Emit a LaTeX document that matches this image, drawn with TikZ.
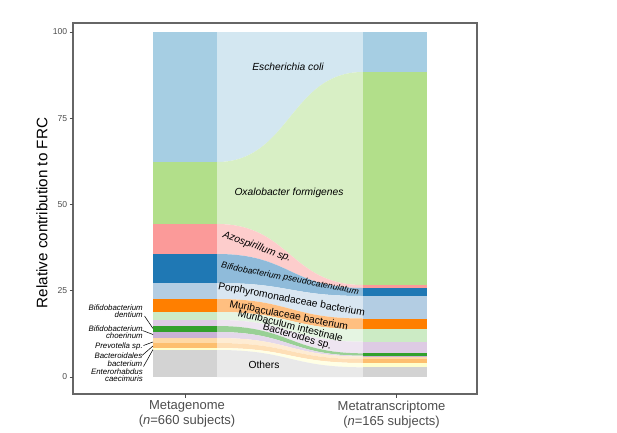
\documentclass[tikz,border=0pt]{standalone}
\usepackage{fontspec}
\setmainfont{Liberation Sans}
\definecolor{cEcoli}{HTML}{A6CEE3}
\definecolor{cOxa}{HTML}{B2DF8A}
\definecolor{cAzo}{HTML}{FB9A99}
\definecolor{cBps}{HTML}{1F78B4}
\definecolor{cPor}{HTML}{B3CDE3}
\definecolor{cMub}{HTML}{FF7F00}
\definecolor{cMui}{HTML}{CCEBC5}
\definecolor{cBac}{HTML}{DECBE4}
\definecolor{cBde}{HTML}{33A02C}
\definecolor{cBch}{HTML}{CAB2D6}
\definecolor{cPre}{HTML}{FED9A6}
\definecolor{cBcd}{HTML}{FDBF6F}
\definecolor{cEnt}{HTML}{FFFFCC}
\definecolor{cOth}{HTML}{D3D3D3}
\definecolor{axgray}{HTML}{4D4D4D}
\definecolor{framegray}{HTML}{666666}
\begin{document}
\begin{tikzpicture}[x=0.75pt,y=-0.75pt,
  ticklbl/.style={anchor=east,text=axgray,font=\fontsize{6.45}{7}\selectfont,inner sep=0pt},
  xlbl/.style={align=center,text=axgray,font=\fontsize{9.75}{11.25}\selectfont,inner sep=0pt},
  flowlbl/.style={font=\fontsize{7.7}{8}\selectfont,inner sep=0pt},
  flowit/.style={font=\fontsize{7.7}{8}\selectfont\itshape,inner sep=0pt},
  sidelbl/.style={anchor=east,align=right,font=\fontsize{5.9}{5.3}\selectfont\itshape,inner sep=0pt},
  leader/.style={draw=black,line width=0.4pt}]
\useasboundingbox (0,0) rectangle (617,432);
% flows and bars
\foreach \col/\la/\lb/\ra/\rb in {
  cEcoli/32/162/32/72,
  cOxa/162/224/72/285,
  cAzo/224/254/285/288,
  cBps/254/283/288/296,
  cPor/283/299/296/318.5,
  cMub/299/312/318.5/329.3,
  cMui/312/320/329.3/341.7,
  cBac/320/326/341.7/353.3,
  cBde/326/332/353.3/355.7,
  cBch/332/338/355.7/356.5,
  cPre/338/343/356.5/359,
  cBcd/343/348/359/363,
  cEnt/348/350/363/367.3,
  cOth/350/377/367.3/377}{
  \fill[\col!50!white] (217,\la) .. controls (290,\la) and (290,\ra) .. (363,\ra)
     -- (363,\rb) .. controls (290,\rb) and (290,\lb) .. (217,\lb) -- cycle;
  \fill[\col] (153,\la) rectangle (217,\lb);
  \fill[\col] (363,\ra) rectangle (427,\rb);
}
% flow labels
\node[flowit] (tEcoli) at (288,66.7) {Escherichia coli};
\node[flowit] (tOxa) at (289,193.3) {Oxalobacter formigenes};
\node[flowit,rotate=-20] (tAzo) at (257,247) {Azospirillum sp.};
\node[flowit,rotate=-11,font=\fontsize{6.6}{7}\selectfont\itshape] (tBps) at (290,279) {Bifidobacterium pseudocatenulatum};
\node[flowlbl,rotate=-10.5] (tPor) at (291.5,300) {Porphyromonadaceae bacterium};
\node[flowlbl,rotate=-11] (tMub) at (289,315) {Muribaculaceae bacterium};
\node[flowlbl,rotate=-14] (tMui) at (290.5,325.5) {Muribaculum intestinale};
\node[flowlbl,rotate=-16] (tBac) at (297,336.7) {Bacteroides sp.};
\node[flowlbl] (tOth) at (264,365) {Others};
% side labels
\node[sidelbl] (ldent) at (143,311.5) {Bifidobacterium\\dentium};
\node[sidelbl] (lchoe) at (143,332) {Bifidobacterium\\choerinum};
\node[sidelbl] (lprev) at (143,346) {Prevotella sp.};
\node[sidelbl] (lbacd) at (142.5,359.7) {Bacteroidales\\bacterium};
\node[sidelbl] (lent) at (143,375) {Enterorhabdus\\caecimuris};
\coordinate (sdent) at (144.5,316);
\coordinate (edent) at (153,328.5);
\coordinate (schoe) at (142.5,330.5);
\coordinate (echoe) at (153,334.5);
\coordinate (sprev) at (143.5,345.5);
\coordinate (eprev) at (153,342);
\coordinate (sbacd) at (142,355.5);
\coordinate (ebacd) at (153,346);
\coordinate (sent) at (143.5,366.5);
\coordinate (eent) at (153,349.5);
\draw[leader] (sdent) -- (edent);
\draw[leader] (schoe) -- (echoe);
\draw[leader] (sprev) -- (eprev);
\draw[leader] (sbacd) -- (ebacd);
\draw[leader] (sent) -- (eent);
% panel frame
\draw[framegray,line width=0.8pt] (73,23) rectangle (477,394);
% y ticks
\foreach \v/\yy in {0/377,25/290.75,50/204.5,75/118.25,100/32}{
  \draw[axgray,line width=0.5pt] (69.5,\yy) -- (73,\yy);
  \node[ticklbl] at (67.5,\yy) {\v};
}
% x ticks
\draw[axgray,line width=0.5pt] (185,394) -- (185,397.5);
\draw[axgray,line width=0.5pt] (396,394) -- (396,397.5);
\node[xlbl] (xmg) at (187,414.2) {Metagenome\\(\textit{n}=660 subjects)};
\node[xlbl] (xmt) at (391.5,414.2) {Metatranscriptome\\(\textit{n}=165 subjects)};
% axis title
\node[rotate=90,font=\fontsize{11.4}{12}\selectfont,inner sep=0pt] (ytitle) at (42,213) {Relative contribution to FRC};
\end{tikzpicture}
\end{document}
